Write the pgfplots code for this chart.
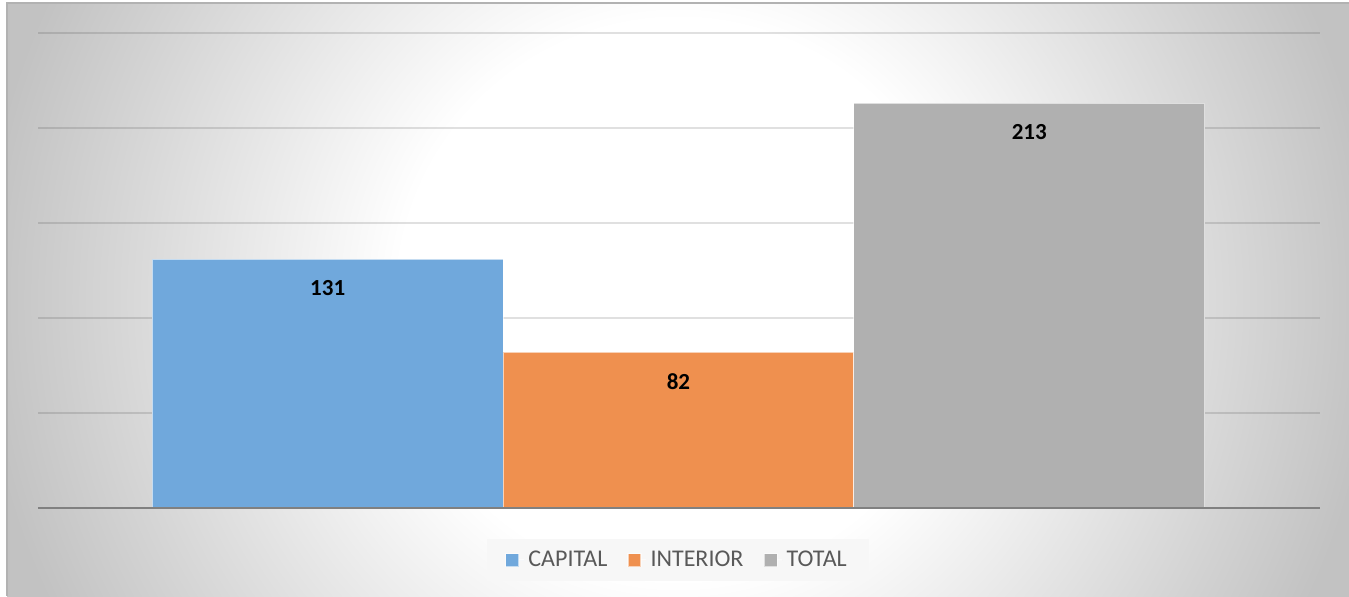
\documentclass[border=0pt]{standalone}
\usepackage{pgfplots}
\pgfplotsset{compat=1.18}
\usepackage{fontspec}
\setmainfont{Carlito}

\definecolor{capblue}{HTML}{70A8DC}
\definecolor{intorange}{HTML}{EF904F}
\definecolor{totgray}{HTML}{B0B0B0}
\definecolor{legtext}{HTML}{595959}

\pgfdeclareradialshading{chartbg}{\pgfpoint{0bp}{0bp}}{%
  color(0bp)=(white); color(10bp)=(white); color(25bp)=(black!24); color(50bp)=(black!24)}

\begin{document}
\begin{tikzpicture}
\useasboundingbox (0,0) rectangle (674.5pt,298pt);
\fill[white] (0,0) rectangle (674.5pt,298pt);
% chart area with soft radial background
\begin{scope}
  \clip (3.5pt,0) rectangle (674.5pt,296.5pt);
  \shade[shading=chartbg] (-11pt,-201.75pt) rectangle (689pt,498.25pt);
\end{scope}
\draw[black!30, line width=0.6pt] (3.5pt,0) -- (3.5pt,296.5pt) -- (674.5pt,296.5pt);

\begin{axis}[
    at={(19pt,44pt)}, anchor=south west,
    scale only axis,
    width=641pt, height=237.5pt,
    xmin=0.174, xmax=3.829,
    ymin=0, ymax=250,
    ytick={0,50,...,250},
    yticklabels={}, xtick=\empty,
    ymajorgrids,
    grid style={draw=black, draw opacity=0.12, line width=1pt},
    axis line style={draw=none},
    tick style={draw=none},
    /pgf/number format/assume math mode=true,
    legend columns=3,
    legend style={at={(0.4992,-0.1095)}, anchor=center,
        fill=black!3, draw=none,
        font=\fontsize{12}{14}\selectfont, text=legtext,
        inner xsep=9pt, inner ysep=4pt,
        /tikz/every even column/.append style={column sep=8pt}},
    legend image code/.code={\path (0pt,0pt) -- (9pt,0pt);
        \fill[#1] (0pt,-3.25pt) rectangle (6.5pt,3.25pt);},
    every node near coord/.append style={anchor=center, yshift=-14.5pt,
        font=\fontsize{11.5}{13}\selectfont\bfseries, text=black},
]
\addplot[ybar, bar width=1, bar shift=0pt, fill=capblue, draw=white, draw opacity=0.6,
    line width=0.6pt, nodes near coords] coordinates {(1,131)};
\addlegendentry{CAPITAL}
\addplot[ybar, bar width=1, bar shift=0pt, fill=intorange, draw=white, draw opacity=0.6,
    line width=0.6pt, nodes near coords] coordinates {(2,82)};
\addlegendentry{INTERIOR}
\addplot[ybar, bar width=1, bar shift=0pt, fill=totgray, draw=white, draw opacity=0.6,
    line width=0.6pt, nodes near coords] coordinates {(3,213)};
\addlegendentry{TOTAL}
\draw[black!50, line width=1pt] (rel axis cs:0,0) -- (rel axis cs:1,0);
\end{axis}
\end{tikzpicture}
\end{document}
